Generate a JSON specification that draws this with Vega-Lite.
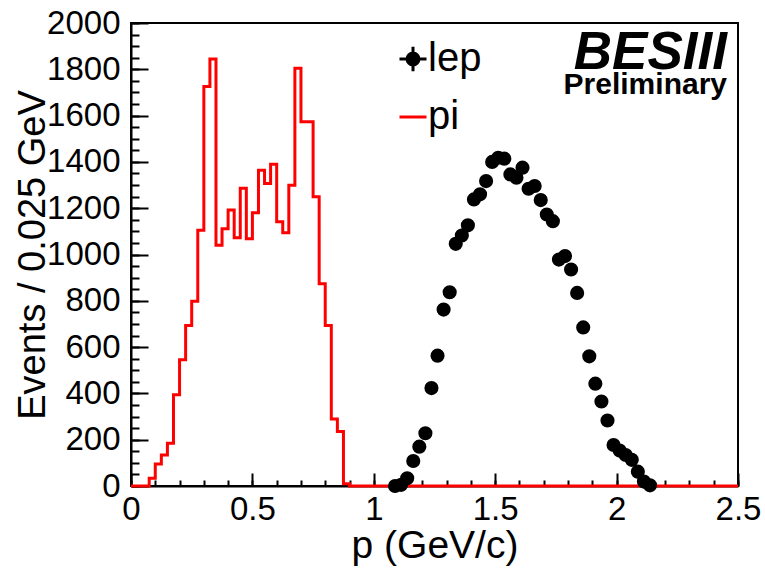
{
  "$schema": "https://vega.github.io/schema/vega-lite/v6.json",
  "width": 607,
  "height": 463,
  "autosize": {"type": "none"},
  "padding": {"left": 131, "top": 23, "right": 27, "bottom": 89},
  "background": "white",
  "config": {
    "view": {"stroke": "black", "strokeWidth": 2},
    "font": "Liberation Sans",
    "axis": {"labelOverlap": false, "labelBound": false, "labelFlush": false, "grid": false, "tickColor": "black", "tickWidth": 2, "domainColor": "black", "domainWidth": 2}
  },
  "title": {
    "text": "BESIII",
    "subtitle": "Preliminary",
    "anchor": "end",
    "frame": "group",
    "orient": "top",
    "offset": -93,
    "dx": -11,
    "font": "Liberation Sans",
    "fontSize": 53,
    "fontStyle": "italic",
    "fontWeight": "bold",
    "color": "black",
    "subtitleFont": "Liberation Sans",
    "subtitleFontSize": 30,
    "subtitleFontWeight": "bold",
    "subtitleColor": "black",
    "subtitlePadding": -10
  },
  "data": {
    "values": [
      {"series": "pi", "p": 0, "n": 0},
      {"series": "pi", "p": 0.075, "n": 33},
      {"series": "pi", "p": 0.1, "n": 95},
      {"series": "pi", "p": 0.125, "n": 134},
      {"series": "pi", "p": 0.15, "n": 185},
      {"series": "pi", "p": 0.175, "n": 394},
      {"series": "pi", "p": 0.2, "n": 545},
      {"series": "pi", "p": 0.225, "n": 693},
      {"series": "pi", "p": 0.25, "n": 798},
      {"series": "pi", "p": 0.275, "n": 1105},
      {"series": "pi", "p": 0.3, "n": 1726},
      {"series": "pi", "p": 0.325, "n": 1844},
      {"series": "pi", "p": 0.35, "n": 1040},
      {"series": "pi", "p": 0.375, "n": 1111},
      {"series": "pi", "p": 0.4, "n": 1192},
      {"series": "pi", "p": 0.425, "n": 1072},
      {"series": "pi", "p": 0.45, "n": 1286},
      {"series": "pi", "p": 0.475, "n": 1068},
      {"series": "pi", "p": 0.5, "n": 1180},
      {"series": "pi", "p": 0.525, "n": 1364},
      {"series": "pi", "p": 0.55, "n": 1307},
      {"series": "pi", "p": 0.575, "n": 1390},
      {"series": "pi", "p": 0.6, "n": 1141},
      {"series": "pi", "p": 0.625, "n": 1094},
      {"series": "pi", "p": 0.65, "n": 1299},
      {"series": "pi", "p": 0.675, "n": 1804},
      {"series": "pi", "p": 0.7, "n": 1573},
      {"series": "pi", "p": 0.725, "n": 1573},
      {"series": "pi", "p": 0.75, "n": 1250},
      {"series": "pi", "p": 0.775, "n": 874},
      {"series": "pi", "p": 0.8, "n": 693},
      {"series": "pi", "p": 0.825, "n": 289},
      {"series": "pi", "p": 0.85, "n": 235},
      {"series": "pi", "p": 0.875, "n": 10},
      {"series": "pi", "p": 0.9, "n": 0},
      {"series": "pi", "p": 2.5, "n": 0},
      {"series": "lep", "p": 1.0875, "n": 0},
      {"series": "lep", "p": 1.1125, "n": 5},
      {"series": "lep", "p": 1.1375, "n": 33},
      {"series": "lep", "p": 1.1625, "n": 108},
      {"series": "lep", "p": 1.1875, "n": 170},
      {"series": "lep", "p": 1.2125, "n": 228},
      {"series": "lep", "p": 1.2375, "n": 423},
      {"series": "lep", "p": 1.2625, "n": 563},
      {"series": "lep", "p": 1.2875, "n": 762},
      {"series": "lep", "p": 1.3125, "n": 837},
      {"series": "lep", "p": 1.3375, "n": 1046},
      {"series": "lep", "p": 1.3625, "n": 1082},
      {"series": "lep", "p": 1.3875, "n": 1126},
      {"series": "lep", "p": 1.4125, "n": 1238},
      {"series": "lep", "p": 1.4375, "n": 1260},
      {"series": "lep", "p": 1.4625, "n": 1317},
      {"series": "lep", "p": 1.4875, "n": 1400},
      {"series": "lep", "p": 1.5125, "n": 1418},
      {"series": "lep", "p": 1.5375, "n": 1414},
      {"series": "lep", "p": 1.5625, "n": 1346},
      {"series": "lep", "p": 1.5875, "n": 1332},
      {"series": "lep", "p": 1.6125, "n": 1375},
      {"series": "lep", "p": 1.6375, "n": 1284},
      {"series": "lep", "p": 1.6625, "n": 1296},
      {"series": "lep", "p": 1.6875, "n": 1235},
      {"series": "lep", "p": 1.7125, "n": 1173},
      {"series": "lep", "p": 1.7375, "n": 1144},
      {"series": "lep", "p": 1.7625, "n": 978},
      {"series": "lep", "p": 1.7875, "n": 993},
      {"series": "lep", "p": 1.8125, "n": 935},
      {"series": "lep", "p": 1.8375, "n": 834},
      {"series": "lep", "p": 1.8625, "n": 685},
      {"series": "lep", "p": 1.8875, "n": 560},
      {"series": "lep", "p": 1.9125, "n": 442},
      {"series": "lep", "p": 1.9375, "n": 365},
      {"series": "lep", "p": 1.9625, "n": 283},
      {"series": "lep", "p": 1.9875, "n": 177},
      {"series": "lep", "p": 2.0125, "n": 153},
      {"series": "lep", "p": 2.0375, "n": 134},
      {"series": "lep", "p": 2.0625, "n": 113},
      {"series": "lep", "p": 2.0875, "n": 62},
      {"series": "lep", "p": 2.1125, "n": 19},
      {"series": "lep", "p": 2.1375, "n": 3}
    ]
  },
  "resolve": {"axis": {"x": "independent", "y": "independent"}},
  "layer": [
    {
      "transform": [{"filter": "datum.series === 'pi'"}],
      "mark": {"type": "line", "interpolate": "step-after", "strokeWidth": 3},
      "encoding": {
        "x": {
          "field": "p",
          "type": "quantitative",
          "scale": {"domain": [0, 2.5], "nice": false, "zero": false},
          "axis": {
            "orient": "bottom",
            "values": [0, 0.1, 0.2, 0.3, 0.4, 0.5, 0.6, 0.7, 0.8, 0.9, 1, 1.1, 1.2, 1.3, 1.4, 1.5, 1.6, 1.7, 1.8, 1.9, 2, 2.1, 2.2, 2.3, 2.4, 2.5],
            "labels": false,
            "domain": false,
            "title": null,
            "tickSize": -6
          }
        },
        "y": {
          "field": "n",
          "type": "quantitative",
          "scale": {"domain": [0, 2000], "nice": false},
          "axis": {
            "orient": "left",
            "values": [0, 50, 100, 150, 200, 250, 300, 350, 400, 450, 500, 550, 600, 650, 700, 750, 800, 850, 900, 950, 1000, 1050, 1100, 1150, 1200, 1250, 1300, 1350, 1400, 1450, 1500, 1550, 1600, 1650, 1700, 1750, 1800, 1850, 1900, 1950, 2000],
            "labels": false,
            "domain": false,
            "title": null,
            "tickSize": -8
          }
        },
        "color": {
          "field": "series",
          "type": "nominal",
          "scale": {"domain": ["lep", "pi"], "range": ["black", "red"]},
          "legend": {
            "orient": "none",
            "legendX": 262,
            "legendY": 16,
            "title": null,
            "padding": 0,
            "labelFont": "Liberation Sans",
            "labelFontSize": 40,
            "labelColor": "black",
            "labelOffset": -5,
            "symbolSize": 729,
            "rowPadding": 18,
            "symbolStrokeWidth": 3,
            "encode": {
              "symbols": {
                "update": {
                  "shape": {"signal": "datum.value === 'lep' ? 'M0.44,0A0.44,0.44,0,1,1,-0.44,0A0.44,0.44,0,1,1,0.44,0ZM-1,0H1M0,-0.9V0.9' : 'stroke'"},
                  "fill": {"signal": "datum.value === 'lep' ? 'black' : 'transparent'"},
                  "stroke": {"signal": "datum.value === 'lep' ? 'black' : 'red'"},
                  "strokeWidth": {"value": 3},
                  "opacity": {"value": 1}
                }
              }
            }
          }
        }
      }
    },
    {
      "transform": [{"filter": "datum.series === 'lep'"}],
      "mark": {"type": "point", "filled": true, "size": 200, "opacity": 1},
      "encoding": {
        "x": {
          "field": "p",
          "type": "quantitative",
          "axis": {
            "orient": "bottom",
            "values": [0, 0.5, 1, 1.5, 2, 2.5],
            "labelExpr": "'' + datum.value",
            "tickSize": -13,
            "labelFont": "Liberation Sans",
            "labelFontSize": 33,
            "labelColor": "black",
            "labelPadding": 20,
            "title": "p (GeV/c)",
            "titleFont": "Liberation Sans",
            "titleFontSize": 39,
            "titleFontWeight": "normal",
            "titleColor": "black",
            "titlePadding": 0
          }
        },
        "y": {
          "field": "n",
          "type": "quantitative",
          "axis": {
            "orient": "left",
            "values": [0, 200, 400, 600, 800, 1000, 1200, 1400, 1600, 1800, 2000],
            "labelExpr": "'' + datum.value",
            "tickSize": -17,
            "labelFont": "Liberation Sans",
            "labelFontSize": 33,
            "labelColor": "black",
            "labelPadding": 28,
            "title": "Events / 0.025 GeV",
            "titleFont": "Liberation Sans",
            "titleFontSize": 38,
            "titleFontWeight": "normal",
            "titleColor": "black",
            "titlePadding": -6
          }
        },
        "color": {"field": "series", "type": "nominal"}
      }
    }
  ]
}
